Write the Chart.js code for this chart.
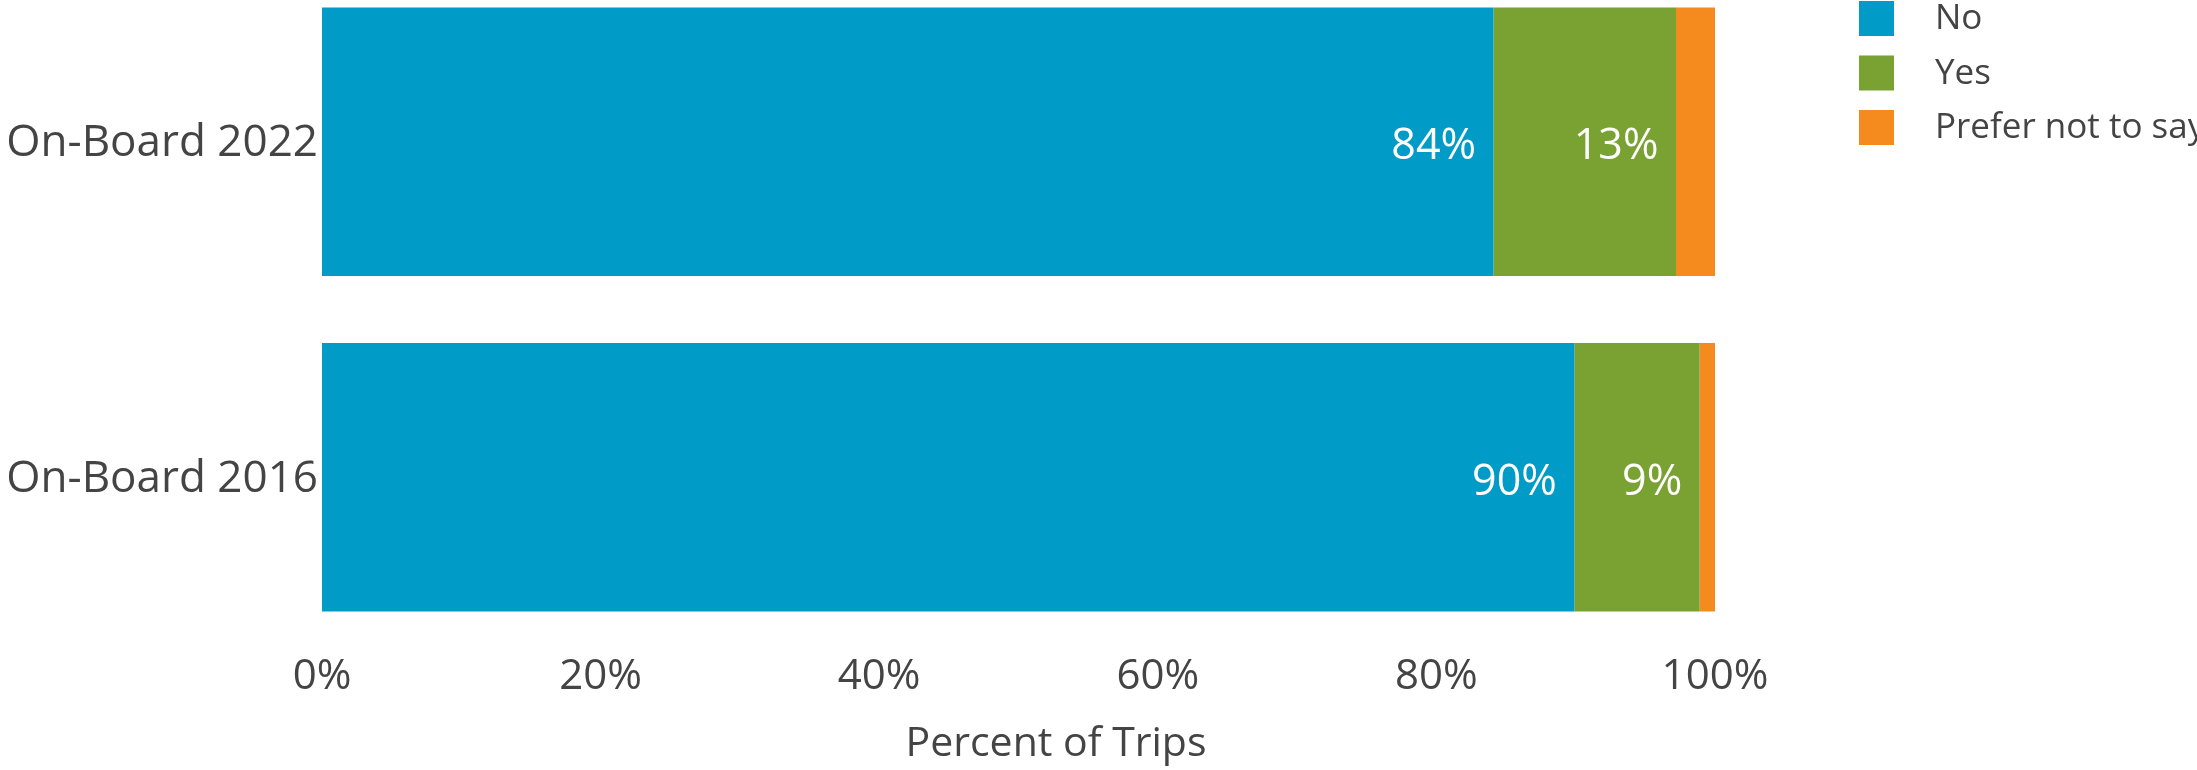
<!DOCTYPE html>
<html>
<head>
<meta charset="utf-8">
<script src="https://cdn.jsdelivr.net/npm/chart.js@4/dist/chart.umd.min.js"></script>
<style>
  html, body { margin: 0; padding: 0; background: #fff; overflow: hidden; }
  #wrap { position: relative; width: 2197px; height: 770px; overflow: hidden; }
  #chart { position: absolute; left: 0; top: -26px; }
</style>
</head>
<body>
<div id="wrap"><canvas id="chart" width="2197" height="798"></canvas></div>
<script>
const categories = ['On-Board 2022', 'On-Board 2016']
const seriesNames = ['No', 'Yes', 'Prefer not to say']
const noValues = [84.1, 89.9]
const yesValues = [13.1, 9.0]
const preferValues = [2.8, 1.1]
const xTicks = [0, 20, 40, 60, 80, 100]

const colors = ['#009BC7', '#79A232', '#F58B1F']
const textColor = '#444444'
const font = 'Open Sans'

// white % labels at the inside end of the first two segments
const barLabels = {
  id: 'barLabels',
  afterDatasetsDraw(chart) {
    const ctx = chart.ctx
    ctx.save()
    ctx.font = `43px "${font}"`
    ctx.fillStyle = '#ffffff'
    ctx.textAlign = 'right'
    ctx.textBaseline = 'alphabetic'
    ;[0, 1].forEach((di) => {
      const meta = chart.getDatasetMeta(di)
      meta.data.forEach((bar, i) => {
        const v = chart.data.datasets[di].data[i]
        ctx.fillText(Math.round(v) + '%', bar.x - 17.5, bar.y + 17.5)
      })
    })
    ctx.restore()
  },
}

// legend in the top right corner, clipped at the page edge like the original
const sideLegend = {
  id: 'sideLegend',
  afterDraw(chart) {
    const ctx = chart.ctx
    ctx.save()
    ctx.font = `35px "${font}"`
    ctx.textBaseline = 'middle'
    ctx.textAlign = 'left'
    chart.data.datasets.forEach((ds, i) => {
      const cy = 44.5 + i * 54.5
      ctx.fillStyle = ds.backgroundColor
      ctx.fillRect(1859, cy - 17.5, 35, 35)
      ctx.fillStyle = textColor
      ctx.fillText(ds.label, 1935, cy + 1)
    })
    ctx.restore()
  },
}

// the axis title sits a bit right of the plot centre in the original
const shiftTitle = {
  id: 'shiftTitle',
  afterLayout(chart) {
    chart.scales.x.right += 75
  },
}

const seriesValues = [noValues, yesValues, preferValues]

new Chart(document.getElementById('chart'), {
  type: 'bar',
  data: {
    labels: categories,
    datasets: seriesNames.map((name, i) => ({
      label: name,
      data: seriesValues[i],
      backgroundColor: colors[i],
      borderWidth: 0,
      categoryPercentage: 0.8,
      barPercentage: 1.0,
    })),
  },
  options: {
    indexAxis: 'y',
    responsive: false,
    maintainAspectRatio: false,
    animation: false,
    layout: { padding: { left: 0, top: 0, right: 482, bottom: 0 } },
    plugins: {
      legend: { display: false },
      tooltip: { enabled: false },
    },
    scales: {
      x: {
        stacked: true,
        min: 0,
        max: 100,
        afterBuildTicks: (scale) => {
          scale.ticks = xTicks.map((v) => ({ value: v }))
        },
        grid: { display: false, drawTicks: false },
        border: { display: false },
        ticks: {
          color: textColor,
          font: { family: font, size: 42 },
          padding: 7,
          callback: (v) => v + '%',
        },
        title: {
          display: true,
          text: 'Percent of Trips',
          color: textColor,
          font: { family: font, size: 41 },
          padding: { top: 0, bottom: 3 },
        },
        afterFit: (scale) => {
          scale.height = 127
        },
      },
      y: {
        stacked: true,
        grid: { display: false, drawTicks: false },
        border: { display: false },
        ticks: {
          color: textColor,
          font: { family: font, size: 44 },
          padding: 4,
          labelOffset: 2,
        },
        afterFit: (scale) => {
          scale.width = 322
          scale.paddingTop = 0
          scale.paddingBottom = 0
        },
      },
    },
  },
  plugins: [barLabels, sideLegend, shiftTitle],
})
</script>
</body>
</html>
